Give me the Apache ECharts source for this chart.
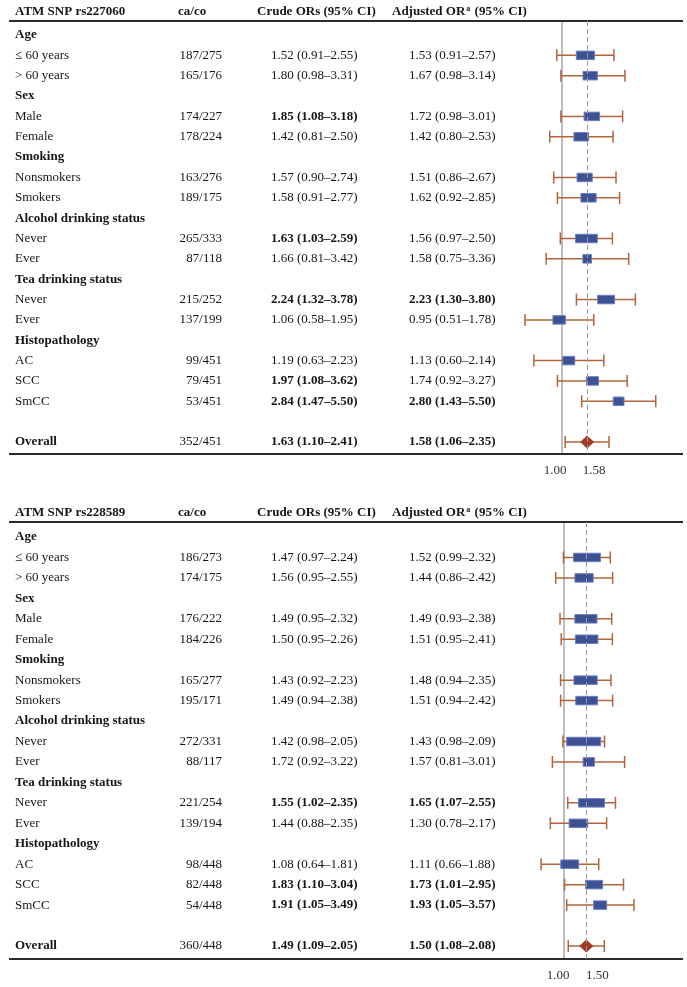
<!DOCTYPE html>
<html><head><meta charset="utf-8">
<script src="https://cdn.jsdelivr.net/npm/echarts@6/dist/echarts.min.js"></script>
<style>html,body{margin:0;padding:0;background:#fff}#c{width:687px;height:987px}</style>
</head><body><div id="c"></div>
<script>
// ---------- data ----------
const snpTitles = ['ATM SNP rs227060', 'ATM SNP rs228589'];
const colTitles = ['ca/co', 'Crude ORs (95% CI)', 'Adjusted OR', 'a', ' (95% CI)'];
const rowLabels = ['Age','≤ 60 years','> 60 years','Sex','Male','Female','Smoking','Nonsmokers','Smokers',
  'Alcohol drinking status','Never','Ever','Tea drinking status','Never','Ever','Histopathology','AC','SCC','SmCC','','Overall'];
const rowTypes = ['group','item','item','group','item','item','group','item','item',
  'group','item','item','group','item','item','group','item','item','item','blank','total'];

const caco1 = [null,'187/275','165/176',null,'174/227','178/224',null,'163/276','189/175',null,'265/333','87/118',null,'215/252','137/199',null,'99/451','79/451','53/451',null,'352/451'];
const crudeOR1 = [null,1.52,1.80,null,1.85,1.42,null,1.57,1.58,null,1.63,1.66,null,2.24,1.06,null,1.19,1.97,2.84,null,1.63];
const crudeLo1 = [null,0.91,0.98,null,1.08,0.81,null,0.90,0.91,null,1.03,0.81,null,1.32,0.58,null,0.63,1.08,1.47,null,1.10];
const crudeHi1 = [null,2.55,3.31,null,3.18,2.50,null,2.74,2.77,null,2.59,3.42,null,3.78,1.95,null,2.23,3.62,5.50,null,2.41];
const adjOR1 = [null,1.53,1.67,null,1.72,1.42,null,1.51,1.62,null,1.56,1.58,null,2.23,0.95,null,1.13,1.74,2.80,null,1.58];
const adjLo1 = [null,0.91,0.98,null,0.98,0.80,null,0.86,0.92,null,0.97,0.75,null,1.30,0.51,null,0.60,0.92,1.43,null,1.06];
const adjHi1 = [null,2.57,3.14,null,3.01,2.53,null,2.67,2.85,null,2.50,3.36,null,3.80,1.78,null,2.14,3.27,5.50,null,2.35];
const tickValues1 = [1.00, 1.58];
const tickLabels1 = ['1.00', '1.58'];

const caco2 = [null,'186/273','174/175',null,'176/222','184/226',null,'165/277','195/171',null,'272/331','88/117',null,'221/254','139/194',null,'98/448','82/448','54/448',null,'360/448'];
const crudeOR2 = [null,1.47,1.56,null,1.49,1.50,null,1.43,1.49,null,1.42,1.72,null,1.55,1.44,null,1.08,1.83,1.91,null,1.49];
const crudeLo2 = [null,0.97,0.95,null,0.95,0.95,null,0.92,0.94,null,0.98,0.92,null,1.02,0.88,null,0.64,1.10,1.05,null,1.09];
const crudeHi2 = [null,2.24,2.55,null,2.32,2.26,null,2.23,2.38,null,2.05,3.22,null,2.35,2.35,null,1.81,3.04,3.49,null,2.05];
const adjOR2 = [null,1.52,1.44,null,1.49,1.51,null,1.48,1.51,null,1.43,1.57,null,1.65,1.30,null,1.11,1.73,1.93,null,1.50];
const adjLo2 = [null,0.99,0.86,null,0.93,0.95,null,0.94,0.94,null,0.98,0.81,null,1.07,0.78,null,0.66,1.01,1.05,null,1.08];
const adjHi2 = [null,2.32,2.42,null,2.38,2.41,null,2.35,2.42,null,2.09,3.01,null,2.55,2.17,null,1.88,2.95,3.57,null,2.08];
const tickValues2 = [1.00, 1.50];
const tickLabels2 = ['1.00', '1.50'];

// ---------- layout / style ----------
const FONT = '"Liberation Serif", "Times New Roman", serif';
const TXT = '#161616';
const layouts = [
  {gridLeft: 518, gridTop: 21, gridHeight: 433, row0: 35, step: 20.35, shiftL: 7, shiftR: 7},
  {gridLeft: 520, gridTop: 522, gridHeight: 437, row0: 537, step: 20.45, shiftL: 6, shiftR: 11}
];
const panels = [
  {title: snpTitles[0], caco: caco1, cOR: crudeOR1, cLo: crudeLo1, cHi: crudeHi1, aOR: adjOR1, aLo: adjLo1, aHi: adjHi1, ticks: tickValues1, tickLabels: tickLabels1},
  {title: snpTitles[1], caco: caco2, cOR: crudeOR2, cLo: crudeLo2, cHi: crudeHi2, aOR: adjOR2, aLo: adjLo2, aHi: adjHi2, ticks: tickValues2, tickLabels: tickLabels2}
];
const fmt = (o, l, h) => o.toFixed(2) + ' (' + l.toFixed(2) + '–' + h.toFixed(2) + ')';
const font = b => (b ? 'bold ' : '') + '13px ' + FONT;

const grids = [], xAxes = [], yAxes = [], series = [];
panels.forEach((p, k) => {
  const L = layouts[k];
  grids.push({left: L.gridLeft, width: 148.5, top: L.gridTop, height: L.gridHeight});
  const tickLn = p.ticks.map(v => Math.log(v));
  xAxes.push({
    type: 'value', gridIndex: k, min: -0.8, max: 1.9,
    axisLine: {show: false}, axisTick: {show: false}, splitLine: {show: false},
    axisLabel: {
      customValues: tickLn, margin: 10, color: '#333', fontFamily: FONT, fontSize: 13,
      formatter: function (v) {
        let j = 0; tickLn.forEach((t, ii) => { if (Math.abs(t - v) < 1e-6) j = ii; });
        return (j === 0 ? '{l|' : '{r|') + p.tickLabels[j] + '}';
      },
      rich: {
        l: {fontFamily: FONT, fontSize: 13, color: '#333', padding: [0, 2 * L.shiftL, 0, 0]},
        r: {fontFamily: FONT, fontSize: 13, color: '#333', padding: [0, 0, 0, 2 * L.shiftR]}
      }
    }
  });
  yAxes.push({
    type: 'value', gridIndex: k, inverse: true, show: false,
    min: (L.gridTop - L.row0) / L.step,
    max: (L.gridTop + L.gridHeight - L.row0) / L.step
  });

  const overallIdx = rowTypes.indexOf('total');
  // null line (OR = 1)
  series.push({
    type: 'line', xAxisIndex: k, yAxisIndex: k, data: [], silent: true,
    markLine: {silent: true, symbol: 'none', z: 1, animation: false, label: {show: false},
      lineStyle: {color: '#bdbdbd', width: 2, type: 'solid'}, data: [{xAxis: 0}]}
  });

  // forest marks (adjusted OR)
  const fData = [];
  rowTypes.forEach((t, i) => {
    if (p.aOR[i] == null) return;
    const se = (Math.log(p.aHi[i]) - Math.log(p.aLo[i])) / 3.92;
    fData.push([Math.log(p.aOR[i]), i, Math.log(p.aLo[i]), Math.log(p.aHi[i]), t === 'total' ? 1 : 0, 1.27 / (se * se)]);
  });
  series.push({
    type: 'custom', xAxisIndex: k, yAxisIndex: k, z: 3, silent: true, data: fData,
    renderItem: function (params, api) {
      const c = api.coord([api.value(0), api.value(1)]);
      const pl = api.coord([api.value(2), api.value(1)]);
      const ph = api.coord([api.value(3), api.value(1)]);
      const cy = c[1], w = api.value(5);
      const st = {stroke: '#b2643c', lineWidth: 1.5};
      const ch = [
        {type: 'line', shape: {x1: pl[0], y1: cy, x2: ph[0], y2: cy}, style: st},
        {type: 'line', shape: {x1: pl[0], y1: cy - 6, x2: pl[0], y2: cy + 6}, style: st},
        {type: 'line', shape: {x1: ph[0], y1: cy - 6, x2: ph[0], y2: cy + 6}, style: st}
      ];
      if (api.value(4)) {
        ch.push({type: 'polygon', shape: {points: [[c[0] - 7, cy], [c[0], cy - 6.5], [c[0] + 7, cy], [c[0], cy + 6.5]]},
          style: {fill: '#a03a25'}});
      } else {
        ch.push({type: 'rect', shape: {x: c[0] - w / 2, y: cy - 4.25, width: w, height: 8.5},
          style: {fill: '#3d5195', stroke: '#6d7fbc', lineWidth: 1}});
      }
      return {type: 'group', children: ch};
    }
  });

  // overall-estimate dashed line
  series.push({
    type: 'line', xAxisIndex: k, yAxisIndex: k, data: [], silent: true,
    markLine: {silent: true, symbol: 'none', z: 6, animation: false, label: {show: false},
      lineStyle: {color: '#9a9a9a', width: 1, type: [5, 3]}, data: [{xAxis: Math.log(p.aOR[overallIdx])}]}
  });

  // table text
  series.push({
    type: 'custom', xAxisIndex: k, yAxisIndex: k, z: 4, silent: true, clip: false,
    data: rowLabels.map((_, i) => [0, i]),
    renderItem: function (params, api) {
      const i = params.dataIndex;
      const cs = params.coordSys;
      const y = api.coord([0, i])[1];
      const t = rowTypes[i];
      const ch = [];
      const txt = (x, s, b, align) => ({type: 'text', x: x, y: y,
        style: {text: s, font: font(b), fill: TXT, align: align || 'left', verticalAlign: 'middle'}});
      if (rowLabels[i]) ch.push(txt(15, rowLabels[i], t !== 'item'));
      if (p.caco[i]) ch.push(txt(222, p.caco[i], false, 'right'));
      if (p.cOR[i] != null) ch.push(txt(271, fmt(p.cOR[i], p.cLo[i], p.cHi[i]), p.cLo[i] > 1));
      if (p.aOR[i] != null) ch.push(txt(409, fmt(p.aOR[i], p.aLo[i], p.aHi[i]), p.aLo[i] > 1));
      if (i === 0) {
        const hy = cs.y - 9;
        const h = (x, s) => ({type: 'text', x: x, y: hy,
          style: {text: s, font: font(true), fill: TXT, align: 'left', verticalAlign: 'middle'}});
        ch.push(h(15, p.title), h(178, colTitles[0]), h(257, colTitles[1]));
        ch.push({type: 'text', x: 392, y: hy, style: {
          text: '{m|' + colTitles[2] + '}{s|' + colTitles[3] + '}{m|' + colTitles[4] + '}',
          align: 'left', verticalAlign: 'middle',
          rich: {m: {font: font(true), fill: TXT}, s: {font: 'bold 8px ' + FONT, fill: TXT, verticalAlign: 'top', padding: [0, 1, 6, 1]}}
        }});
        const rs = {stroke: '#2a2a2a', lineWidth: 2};
        ch.push({type: 'line', shape: {x1: 9, y1: cs.y, x2: 683, y2: cs.y}, style: rs});
        ch.push({type: 'line', shape: {x1: 9, y1: cs.y + cs.height, x2: 683, y2: cs.y + cs.height}, style: rs});
      }
      return {type: 'group', children: ch};
    }
  });
});

const chart = echarts.init(document.getElementById('c'), null, {renderer: 'canvas'});
chart.setOption({animation: false, backgroundColor: '#fff', grid: grids, xAxis: xAxes, yAxis: yAxes, series: series});
</script></body></html>
